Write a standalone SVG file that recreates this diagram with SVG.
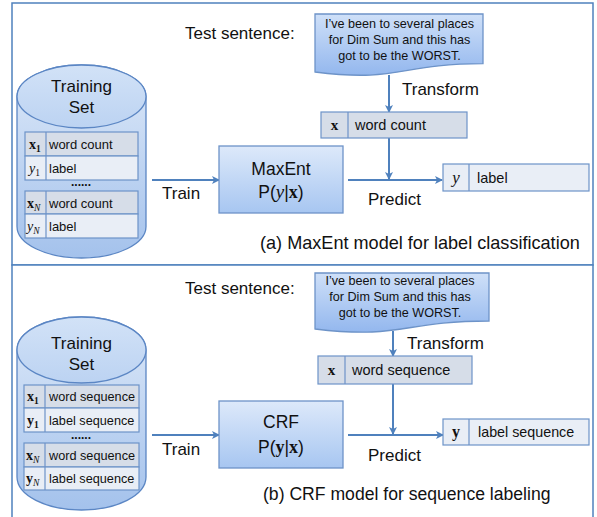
<svg xmlns="http://www.w3.org/2000/svg" width="597" height="517" viewBox="0 0 597 517">
<defs>
<style>
.frame{fill:#ffffff;stroke:#4f81bd;stroke-width:1.5}
.lbl{font-family:"Liberation Sans",Arial,sans-serif;font-size:17px;fill:#111}
.doct{font-family:"Liberation Sans",Arial,sans-serif;font-size:12.6px;fill:#111;text-anchor:middle}
.cell{font-family:"Liberation Sans",Arial,sans-serif;font-size:13px;fill:#111}
.cellb{font-family:"Liberation Sans",Arial,sans-serif;font-size:14.5px;fill:#111}
.mb{font-family:"Liberation Serif","Times New Roman",serif;font-weight:bold;fill:#111}
.mi{font-family:"Liberation Serif","Times New Roman",serif;font-style:italic;fill:#111}
.rowx{fill:#d6dde8;stroke:#6d93c8;stroke-width:1.2}
.rowy{fill:#e9eef6;stroke:#6d93c8;stroke-width:1.2}
.cyl{fill:url(#gCyl);stroke:#5b86c4;stroke-width:1.3}
.cyltop{fill:url(#gTop);stroke:#5b86c4;stroke-width:1.3}
.model{fill:url(#gBox);stroke:#6d93c8;stroke-width:1.3}
.doc{fill:url(#gDoc);stroke:#6d93c8;stroke-width:1.3}
.conn{stroke:#4f81bd;stroke-width:2;fill:none;marker-end:url(#arr)}
</style>
<linearGradient id="gCyl" x1="0" y1="0" x2="0" y2="1">
<stop offset="0" stop-color="#dce8f8"/><stop offset="1" stop-color="#a4c2ec"/>
</linearGradient>
<linearGradient id="gTop" x1="0" y1="0" x2="0" y2="1">
<stop offset="0" stop-color="#d2e2f7"/><stop offset="1" stop-color="#bcd3f2"/>
</linearGradient>
<linearGradient id="gBox" x1="0" y1="0" x2="0" y2="1">
<stop offset="0" stop-color="#dde9fa"/><stop offset="1" stop-color="#a7c6f1"/>
</linearGradient>
<linearGradient id="gDoc" x1="0" y1="0" x2="0" y2="1">
<stop offset="0" stop-color="#cfe0f8"/><stop offset="1" stop-color="#93b7ee"/>
</linearGradient>
<marker id="arr" markerWidth="8" markerHeight="8" refX="7" refY="4" orient="auto" markerUnits="userSpaceOnUse">
<path d="M0,0 L8,4 L0,8 L2,4 Z" fill="#4f81bd"/>
</marker>
</defs>

<g id="panel-a">
<rect class="frame" x="12" y="3" width="581" height="262"/>
</g>
<g id="panel-b">
<rect class="frame" x="12" y="265" width="581" height="256"/>
</g>

<g id="connectors">
<line class="conn" x1="152" y1="180" x2="219" y2="180"/>
<line class="conn" x1="389" y1="75" x2="389" y2="112"/>
<line class="conn" x1="389" y1="138" x2="389" y2="179"/>
<line class="conn" x1="348" y1="180" x2="442" y2="180"/>
<line class="conn" x1="152" y1="435" x2="219" y2="435"/>
<line class="conn" x1="393" y1="331" x2="393" y2="356"/>
<line class="conn" x1="393" y1="384" x2="393" y2="434"/>
<line class="conn" x1="348" y1="435" x2="443" y2="435"/>
</g>

<!-- Panel A -->
<g id="a-test-label"><text class="lbl" x="185" y="39">Test sentence:</text></g>
<g id="a-doc">
<path class="doc" d="M315,14 H483 V63.7 C399,63.7 399,82.7 315,72 Z"/>
<text class="doct" x="399.5" y="28">I’ve been to several places</text>
<text class="doct" x="399.5" y="44">for Dim Sum and this has</text>
<text class="doct" x="399.5" y="60">got to be the WORST.</text>
</g>
<g id="a-transform"><text class="lbl" x="402" y="95">Transform</text></g>
<g id="a-xbox">
<rect class="rowx" x="321" y="112" width="146" height="26"/>
<line x1="348" y1="112" x2="348" y2="138" stroke="#6d93c8" stroke-width="1.2"/>
<text class="mb" x="334.5" y="130" font-size="15" text-anchor="middle">x</text>
<text class="cellb" x="355" y="130">word count</text>
</g>
<g id="a-trainset">
<path class="cyl" d="M17,96.5 A64.5,31.5 0 0 1 146,96.5 V226.5 A64.5,31.5 0 0 1 17,226.5 Z"/>
<ellipse class="cyltop" cx="81.5" cy="96.5" rx="64.5" ry="31.5"/>
<text class="lbl" x="81.5" y="92" text-anchor="middle">Training</text>
<text class="lbl" x="81.5" y="113" text-anchor="middle">Set</text>
<rect class="rowx" x="25" y="132" width="113" height="24"/>
<rect class="rowy" x="25" y="156" width="113" height="24"/>
<line x1="46" y1="132" x2="46" y2="180" stroke="#6d93c8" stroke-width="1.2"/>
<text class="mb" x="29" y="149" font-size="14">x<tspan font-size="9.5" dy="2.5">1</tspan></text>
<text class="mi" x="29" y="173" font-size="14">y<tspan font-size="9.5" font-style="normal" dy="2.5">1</tspan></text>
<text class="cell" x="49" y="149">word count</text>
<text class="cell" x="49" y="173">label</text>
<text class="cell" x="81" y="186" text-anchor="middle" style="font-size:12px;font-weight:bold">......</text>
<rect class="rowx" x="25" y="191" width="113" height="23"/>
<rect class="rowy" x="25" y="214" width="113" height="24"/>
<line x1="46" y1="191" x2="46" y2="238" stroke="#6d93c8" stroke-width="1.2"/>
<text class="mb" x="27" y="208" font-size="14">x<tspan class="mi" font-weight="normal" font-size="9.5" dy="2.5">N</tspan></text>
<text class="mi" x="27" y="231" font-size="14">y<tspan font-size="9.5" dy="2.5">N</tspan></text>
<text class="cell" x="49" y="208">word count</text>
<text class="cell" x="49" y="231">label</text>
</g>
<g id="a-train"><text class="lbl" x="162" y="199">Train</text></g>
<g id="a-model">
<rect class="model" x="219" y="146" width="124" height="67"/>
<text class="lbl" x="281" y="175" text-anchor="middle" style="font-size:17.5px">MaxEnt</text>
<text class="lbl" x="281" y="198" text-anchor="middle" style="font-size:17.5px">P(<tspan class="mi" font-size="19">y</tspan>|<tspan class="mb" font-size="18">x</tspan>)</text>
</g>
<g id="a-predict"><text class="lbl" x="368" y="205">Predict</text></g>
<g id="a-ybox">
<rect class="rowy" x="443" y="164" width="146" height="27"/>
<line x1="469" y1="164" x2="469" y2="191" stroke="#6d93c8" stroke-width="1.2"/>
<text class="mi" x="456" y="183" font-size="17" text-anchor="middle">y</text>
<text class="cellb" x="477" y="183">label</text>
</g>
<g id="a-caption"><text class="lbl" x="260" y="249" style="font-size:18.1px">(a) MaxEnt model for label classification</text></g>

<!-- Panel B -->
<g id="b-test-label"><text class="lbl" x="185" y="294">Test sentence:</text></g>
<g id="b-doc">
<path class="doc" d="M315,273 H489 V321 C402,321 402,339.5 315,329 Z"/>
<text class="doct" x="400" y="285">I’ve been to several places</text>
<text class="doct" x="400" y="301">for Dim Sum and this has</text>
<text class="doct" x="400" y="317">got to be the WORST.</text>
</g>
<g id="b-transform"><text class="lbl" x="407" y="349">Transform</text></g>
<g id="b-xbox">
<rect class="rowx" x="318" y="356" width="154" height="28"/>
<line x1="345" y1="356" x2="345" y2="384" stroke="#6d93c8" stroke-width="1.2"/>
<text class="mb" x="331.5" y="375" font-size="15" text-anchor="middle">x</text>
<text class="cellb" x="352" y="375">word sequence</text>
</g>
<g id="b-trainset">
<path class="cyl" d="M17,350 A64.5,33 0 0 1 146,350 V477 A64.5,33 0 0 1 17,477 Z"/>
<ellipse class="cyltop" cx="81.5" cy="350" rx="64.5" ry="33"/>
<text class="lbl" x="81.5" y="349" text-anchor="middle">Training</text>
<text class="lbl" x="81.5" y="370" text-anchor="middle">Set</text>
<rect class="rowx" x="24" y="385" width="115" height="23"/>
<rect class="rowy" x="24" y="408" width="115" height="24"/>
<line x1="45" y1="385" x2="45" y2="432" stroke="#6d93c8" stroke-width="1.2"/>
<text class="mb" x="27" y="401" font-size="14">x<tspan font-size="9.5" dy="2.5">1</tspan></text>
<text class="mb" x="27" y="425" font-size="14">y<tspan font-size="9.5" dy="2.5">1</tspan></text>
<text class="cell" x="49" y="401" style="font-size:12.7px">word sequence</text>
<text class="cell" x="49" y="425" style="font-size:12.7px">label sequence</text>
<text class="cell" x="81" y="439" text-anchor="middle" style="font-size:12px;font-weight:bold">......</text>
<rect class="rowx" x="24" y="443" width="115" height="24"/>
<rect class="rowy" x="24" y="467" width="115" height="23"/>
<line x1="45" y1="443" x2="45" y2="490" stroke="#6d93c8" stroke-width="1.2"/>
<text class="mb" x="26" y="460" font-size="14">x<tspan class="mi" font-weight="normal" font-size="9.5" dy="2.5">N</tspan></text>
<text class="mb" x="26" y="483" font-size="14">y<tspan class="mi" font-weight="normal" font-size="9.5" dy="2.5">N</tspan></text>
<text class="cell" x="49" y="460" style="font-size:12.7px">word sequence</text>
<text class="cell" x="49" y="483" style="font-size:12.7px">label sequence</text>
</g>
<g id="b-train"><text class="lbl" x="162" y="455">Train</text></g>
<g id="b-model">
<rect class="model" x="219" y="401" width="124" height="67"/>
<text class="lbl" x="281" y="428" text-anchor="middle" style="font-size:17.5px">CRF</text>
<text class="lbl" x="281" y="453" text-anchor="middle" style="font-size:17.5px">P(<tspan class="mb" font-size="18">y</tspan>|<tspan class="mb" font-size="18">x</tspan>)</text>
</g>
<g id="b-predict"><text class="lbl" x="368" y="461">Predict</text></g>
<g id="b-ybox">
<rect class="rowy" x="443" y="419" width="146" height="26"/>
<line x1="469" y1="419" x2="469" y2="445" stroke="#6d93c8" stroke-width="1.2"/>
<text class="mb" x="456" y="437" font-size="16" text-anchor="middle">y</text>
<text class="cellb" x="478" y="437" style="font-size:14.3px">label sequence</text>
</g>
<g id="b-caption"><text class="lbl" x="263" y="500" style="font-size:17.6px">(b) CRF model for sequence labeling</text></g>
</svg>
